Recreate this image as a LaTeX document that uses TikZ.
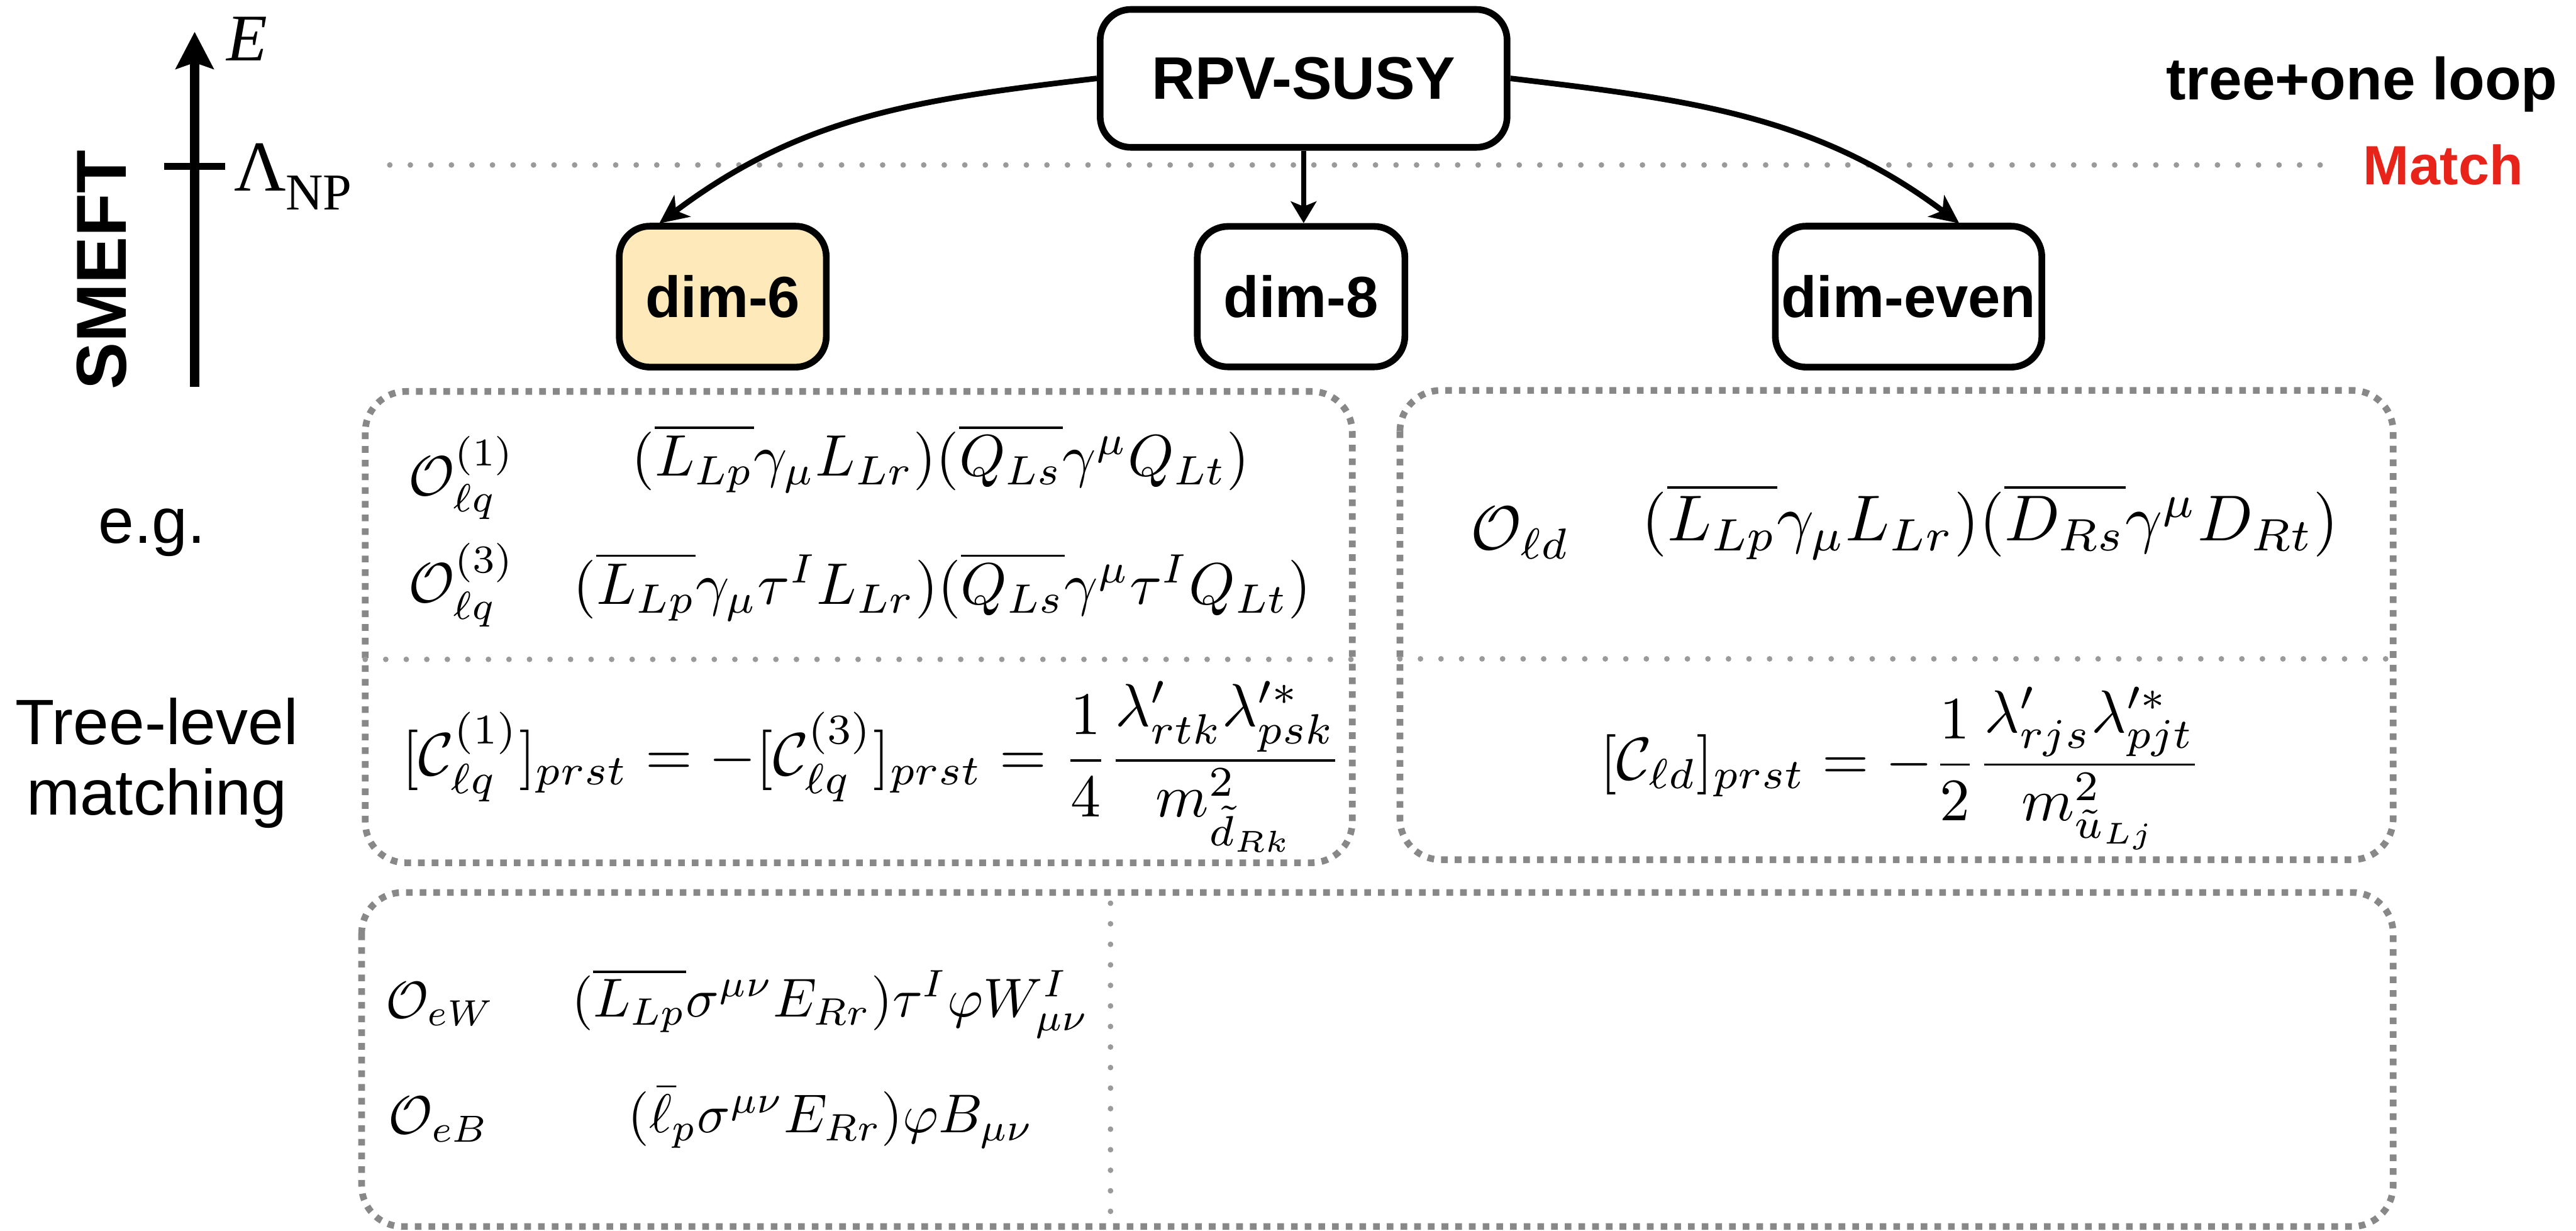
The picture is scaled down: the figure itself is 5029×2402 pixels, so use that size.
\documentclass[tikz,border=0pt]{standalone}
\usepackage{graphicx}
\usepackage{fontspec}
\usetikzlibrary{arrows.meta,calc}
\newfontfamily\arialf{Liberation Sans}
\newfontfamily\serift{Liberation Serif}
\definecolor{dimfill}{HTML}{FDE9BA}
\definecolor{matchred}{HTML}{E8231A}
\definecolor{dashgray}{HTML}{888888}
\definecolor{dotgray}{HTML}{9A9A9A}
\newcommand{\fs}[2]{\fontsize{#1}{#2}\selectfont}

\tikzset{
  boxnode/.style={draw=black, line width=3.7pt, rounded corners=0.6cm,
    inner sep=0pt, font=\arialf\bfseries\fs{32.2pt}{38pt}},
  dashbox/.style={draw=dashgray, line width=3.7pt, dash pattern=on 3.7pt off 3.9pt,
    rounded corners=0.8cm},
  dotline/.style={draw=dotgray, line width=3.1pt, line cap=round,
    dash pattern=on 0pt off 11.4pt},
  curvearrow/.style={draw=black, line width=3.1pt,
    -{Stealth[length=16pt,width=14.8pt,inset=4.3pt]}},
  straightarrow/.style={draw=black, line width=2.6pt,
    -{Stealth[length=12pt,width=14.2pt,inset=2.8pt]}},
  mathnode/.style={inner sep=0pt, anchor=west},
  sidetext/.style={inner sep=0pt, font=\arialf\fs{35.6pt}{39pt}, align=center}
}

\begin{document}
\begin{tikzpicture}[x=0.01cm, y=-0.01cm]
\useasboundingbox (0,0) rectangle (5029,2402);

% energy axis with the matching scale
\coordinate (axbot) at (380,755);
\coordinate (axtop) at (380,62);
\coordinate (tickL) at (320,325);
\coordinate (tickR) at (440,325);
\draw[line width=5.1pt, -{Stealth[length=20.5pt,width=20.8pt,inset=3.4pt]}] (axbot) -- (axtop);
\draw[line width=4pt] (tickL) -- (tickR);
\node[inner sep=0pt, anchor=base west, font=\serift\itshape\fs{37pt}{40pt}] (elabel) at (442,119) {E};
\node[inner sep=0pt, anchor=base west, font=\serift\fs{39.8pt}{42pt}] (lam) at (457,373) {Λ};
\node[inner sep=0pt, anchor=base west, font=\serift\fs{28.7pt}{30pt}] (np) at (557,410) {NP};
\node[inner sep=0pt, rotate=90, font=\arialf\bfseries\fs{39.3pt}{42pt}] (smeft) at (199,527) {SMEFT};

% matching threshold
\coordinate (thrL) at (761,322);
\coordinate (thrR) at (4563,322);
\draw[dotline] (thrL) -- (thrR);
\node[inner sep=0pt, anchor=base west, font=\arialf\bfseries\fs{33pt}{36pt}] (loop) at (4228,194) {tree+one loop};
\node[inner sep=0pt, anchor=base west, text=matchred, font=\arialf\bfseries\fs{30.7pt}{34pt}] (match) at (4613,360) {Match};

% left-hand labels
\node[sidetext, anchor=base] (eg) at (297,1060) {e.g.};
\node[sidetext, anchor=base] (tree) at (306,1453) {Tree-level};
\node[sidetext, anchor=base] (matching) at (306,1590) {matching};

% operator panels
\draw[dashbox] (713,764) rectangle (2640,1684);
\draw[dashbox] (2733,762) rectangle (4672,1678);
\draw[dashbox] (706,1742) rectangle (4672,2394);
\coordinate (sepAl) at (713,1287);
\coordinate (sepAr) at (2640,1287);
\coordinate (sepBl) at (2733,1286);
\coordinate (sepBr) at (4672,1286);
\coordinate (sepCt) at (2168,1763);
\coordinate (sepCb) at (2168,2367);
\draw[dotline] (sepAl) -- (sepAr);
\draw[dotline] (sepBl) -- (sepBr);
\draw[dotline] (sepCt) -- (sepCb);

% hierarchy of effective theories
\node[boxnode, minimum width=7.94cm, minimum height=2.69cm, font=\arialf\bfseries\fs{33.3pt}{38pt}] (rpv) at (2545,153) {RPV-SUSY};
\node[boxnode, fill=dimfill, minimum width=4.04cm, minimum height=2.75cm] (dim6) at (1411,579) {dim-6};
\node[boxnode, minimum width=4.05cm, minimum height=2.74cm] (dim8) at (2540,579) {dim-8};
\node[boxnode, minimum width=5.20cm, minimum height=2.75cm] (dimev) at (3726,579) {dim-even};

\coordinate (in6) at (1287,436);
\coordinate (inev) at (3825,436);
\draw[curvearrow] (rpv.west) .. controls (1794,194) and (1567,225) .. (in6);
\draw[curvearrow] (rpv.east) .. controls (3295,194) and (3545,225) .. (inev);
\draw[straightarrow] (rpv.south) -- (rpv.south |- dim8.north);

% dim-6 semileptonic operators
\node[mathnode] (oa1) at (797,933) {\resizebox{2.08cm}{!}{$\mathcal{O}^{(1)}_{\ell q}$}};
\node[mathnode] (fa1) at (1233,895) {\resizebox{12.05cm}{!}{$(\overline{L_{Lp}}\gamma_\mu L_{Lr})(\overline{Q_{Ls}}\gamma^\mu Q_{Lt})$}};
\node[mathnode] (oa2) at (797,1142) {\resizebox{2.08cm}{!}{$\mathcal{O}^{(3)}_{\ell q}$}};
\node[mathnode] (fa2) at (1119,1145) {\resizebox{14.39cm}{!}{$(\overline{L_{Lp}}\gamma_\mu\tau^I L_{Lr})(\overline{Q_{Ls}}\gamma^\mu\tau^I Q_{Lt})$}};
\node[mathnode] (ea) at (784,1496) {\resizebox{18.35cm}{!}{$\displaystyle [\mathcal{C}^{(1)}_{\ell q}]_{prst}=-[\mathcal{C}^{(3)}_{\ell q}]_{prst}=\frac{1}{4}\frac{\lambda'_{rtk}\lambda'^{*}_{psk}}{m^2_{\tilde{d}_{Rk}}}$}};

\node[mathnode] (ob) at (2871,1040) {\resizebox{1.93cm}{!}{$\mathcal{O}_{\ell d}$}};
\node[mathnode] (fb) at (3205,1018) {\resizebox{13.59cm}{!}{$(\overline{L_{Lp}}\gamma_\mu L_{Lr})(\overline{D_{Rs}}\gamma^\mu D_{Rt})$}};
\node[mathnode] (eb) at (3123,1500) {\resizebox{11.74cm}{!}{$\displaystyle [\mathcal{C}_{\ell d}]_{prst}=-\frac{1}{2}\frac{\lambda'_{rjs}\lambda'^{*}_{pjt}}{m^2_{\tilde{u}_{Lj}}}$}};

% dipole operators
\node[mathnode] (oc1) at (753,1960) {\resizebox{2.12cm}{!}{$\mathcal{O}_{eW}$}};
\node[mathnode] (fc1) at (1116,1958) {\resizebox{10.09cm}{!}{$(\overline{L_{Lp}}\sigma^{\mu\nu}E_{Rr})\tau^I\varphi W^I_{\mu\nu}$}};
\node[mathnode] (oc2) at (758,2185) {\resizebox{1.96cm}{!}{$\mathcal{O}_{eB}$}};
\node[mathnode] (fc2) at (1225,2182) {\resizebox{7.92cm}{!}{$(\bar{\ell}_p\sigma^{\mu\nu}E_{Rr})\varphi B_{\mu\nu}$}};
\end{tikzpicture}
\end{document}
